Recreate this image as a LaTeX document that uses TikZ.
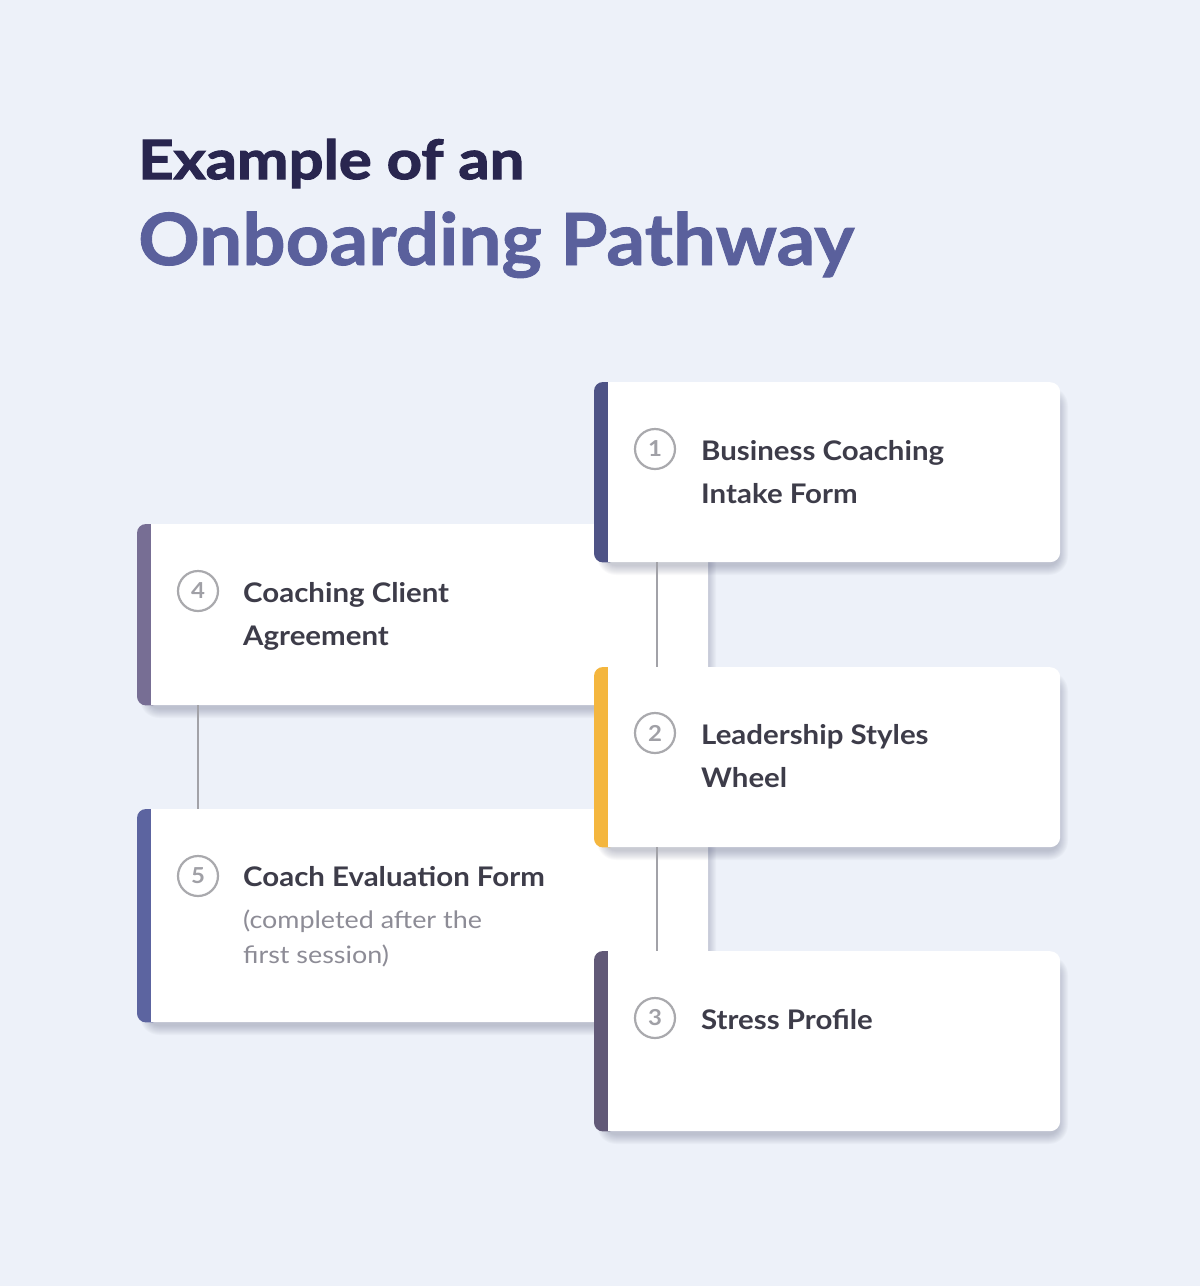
\documentclass[tikz,border=0pt]{standalone}
\usepackage{fontspec}
\setmainfont{Lato}[FakeStretch=1.09]
\newfontfamily\subfont{Lato}[FakeStretch=1.12]
\newfontfamily\ttlAfont{Lato}[FakeStretch=1.14, FakeBold=2.2]
\newfontfamily\ttlBfont{Lato}[FakeStretch=1.06, FakeBold=1.2]
\definecolor{bgc}{HTML}{EDF1F9}
\definecolor{titleA}{HTML}{29264F}
\definecolor{titleB}{HTML}{5A609C}
\definecolor{bodyc}{HTML}{3D3C49}
\definecolor{subc}{HTML}{8D8C96}
\definecolor{circc}{HTML}{A9A9AD}
\definecolor{numc}{HTML}{A0A0A6}
\definecolor{barA}{HTML}{4E5386}
\definecolor{barB}{HTML}{F4B63E}
\definecolor{barC}{HTML}{615977}
\definecolor{barD}{HTML}{776E94}
\definecolor{barE}{HTML}{5C64A0}
\definecolor{connc}{HTML}{A2A2A8}
\definecolor{shadc}{HTML}{4A5070}
\newcommand\pathcard[6]{%
  \foreach \k [evaluate=\k as \rr using 10+\k] in {0,...,9}{%
    \fill[shadc, opacity=0.03, rounded corners=\rr pt]
      (#2+12-\k, #3+14-\k) rectangle (#2+#4-1+\k, #3+#5+4+\k);
  }%
  \node[cardbox, minimum width=#4pt, minimum height=#5pt] (#1) at (#2,#3) {};
  \fill[#6, rounded corners=9pt] (#1.north west) rectangle ([xshift=24pt]#1.south west);
  \fill[white] ([xshift=14pt]#1.north west) rectangle ([xshift=26pt]#1.south west);
}
\begin{document}
\begin{tikzpicture}[x=1pt,y=-1pt,
  cardbox/.style={rectangle, fill=white, rounded corners=10pt, anchor=north west, inner sep=0pt},
  numcirc/.style={circle, draw=circc, line width=2.2pt, minimum size=40pt, inner sep=0pt, text=numc,
    font=\bfseries\fontsize{22}{22}\selectfont},
  lbl/.style={anchor=base west, inner sep=0pt, text=bodyc, font=\bfseries\fontsize{27}{30}\selectfont},
  sublbl/.style={anchor=base west, inner sep=0pt, text=subc, font=\subfont\fontsize{24}{28}\selectfont},
  conn/.style={draw=connc, line width=1.8pt}]
\fill[bgc] (0,0) rectangle (1200,1286);
\useasboundingbox (0,0) rectangle (1200,1286);
% titles
\node[anchor=base west, inner sep=0pt, text=titleA, font=\ttlAfont\bfseries\fontsize{54}{60}\selectfont] (ttlA) at (138,179) {Example of an};
\node[anchor=base west, inner sep=0pt, text=titleB, font=\ttlBfont\bfseries\fontsize{72}{80}\selectfont] (ttlB) at (138,265) {Onboarding Pathway};
% left cards
\pathcard{c4}{137}{524}{571}{181}{barD}
\pathcard{c5}{137}{809}{571}{213}{barE}
\draw[conn] ([xshift=61pt]c4.south west) -- ([xshift=61pt]c5.north west);
% right cards
\pathcard{c1}{594}{382}{466}{180}{barA}
\pathcard{c2}{594}{667}{466}{180}{barB}
\pathcard{c3}{594}{951}{466}{180}{barC}
\draw[conn] ([xshift=63pt]c1.south west) -- ([xshift=63pt]c2.north west);
\draw[conn] ([xshift=63pt]c2.south west) -- ([xshift=63pt]c3.north west);
% numbers
\node[numcirc] (n1) at (655,449) {1};
\node[numcirc] (n2) at (655,733) {2};
\node[numcirc] (n3) at (655,1018) {3};
\node[numcirc] (n4) at (198,591) {4};
\node[numcirc] (n5) at (198,876) {5};
% labels
\node[lbl] (t1a) at (701,460) {Business Coaching};
\node[lbl] (t1b) at (701,503) {Intake Form};
\node[lbl] (t2a) at (701,744) {Leadership Styles};
\node[lbl] (t2b) at (701,787) {Wheel};
\node[lbl] (t3a) at (701,1029) {Stress Profile};
\node[lbl] (t4a) at (243,602) {Coaching Client};
\node[lbl] (t4b) at (243,645) {Agreement};
\node[lbl] (t5a) at (243,886) {Coach Evaluation Form};
\node[sublbl] (t5b) at (243,928) {(completed after the};
\node[sublbl] (t5c) at (243,963) {first session)};
\end{tikzpicture}
\end{document}
